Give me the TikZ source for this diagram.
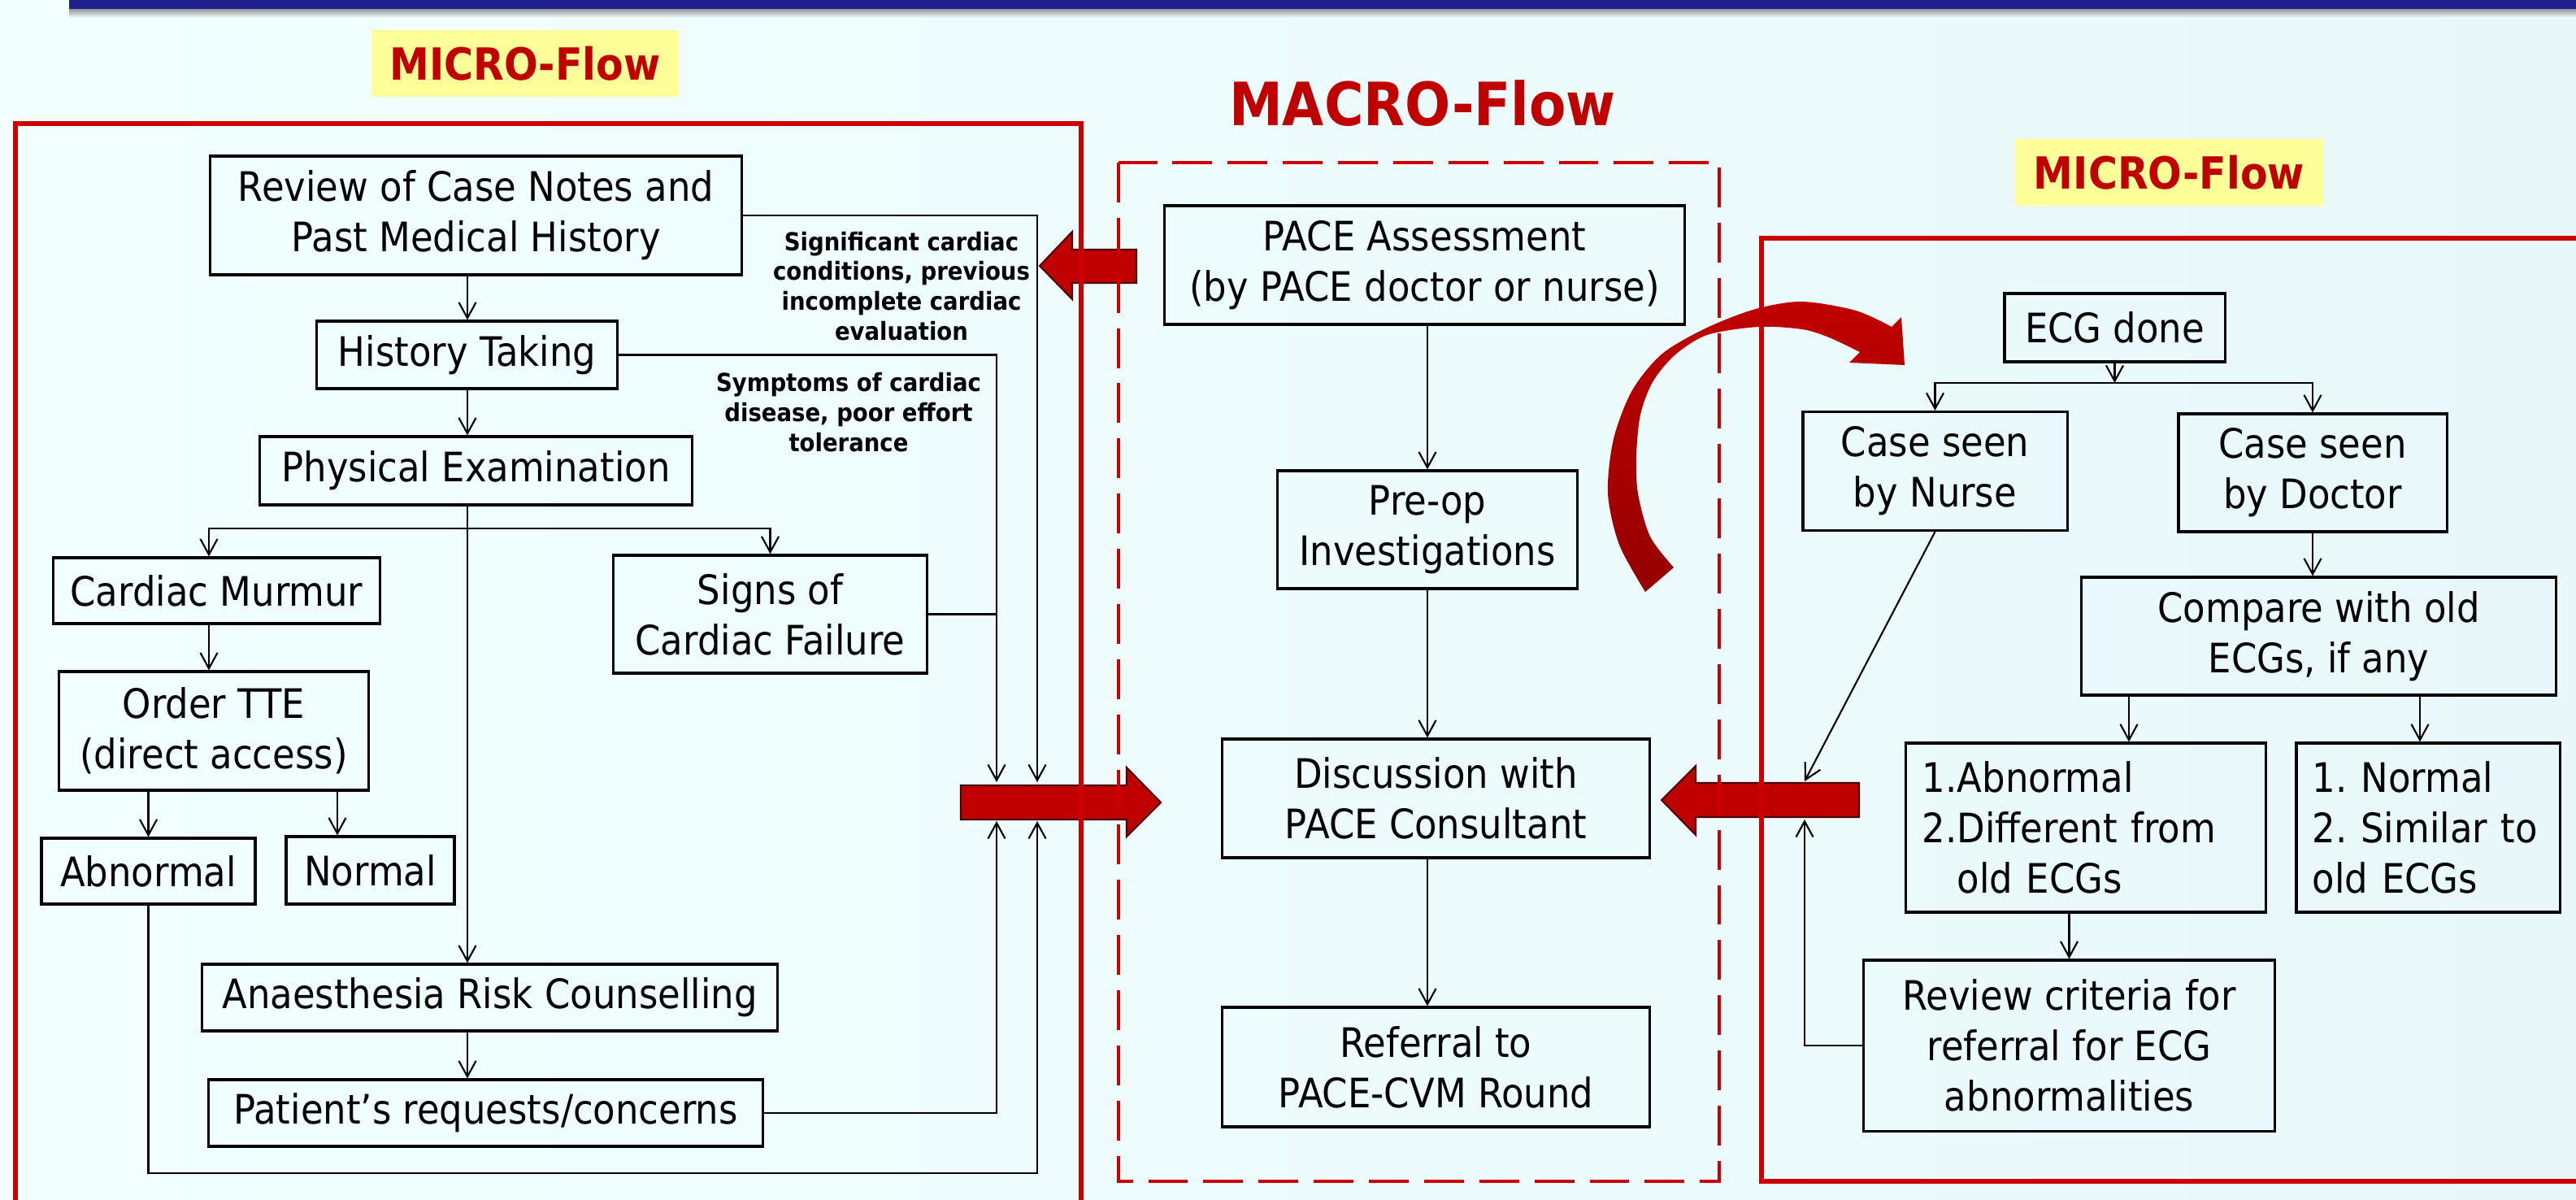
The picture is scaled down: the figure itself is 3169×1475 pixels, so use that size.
\documentclass[tikz,border=0pt]{standalone}
\usepackage{fontspec}
\setmainfont{DejaVu Sans}[FakeStretch=0.9]
\usetikzlibrary{arrows.meta}
\definecolor{bgc}{RGB}{242,255,255}
\definecolor{bgr}{RGB}{232,248,250}
\definecolor{navy}{RGB}{32,32,140}
\definecolor{rd}{RGB}{204,0,0}
\definecolor{ard}{RGB}{192,0,0}
\definecolor{dkr}{RGB}{150,0,0}
\definecolor{ylw}{RGB}{255,255,153}
\newcommand{\nsz}{\fontsize{14.2}{17.6}\selectfont\frenchspacing}
\newcommand{\lsz}{\bfseries\fontsize{8.7}{10.5}\selectfont}
\begin{document}
\begin{tikzpicture}[x=0.01cm,y=-0.01cm,
  box/.style={draw=black,line width=0.9pt,inner sep=0pt,align=center,font=\nsz},
  conn/.style={line width=0.6pt},
  arr/.style={conn,-{Straight Barb[length=5.5pt,width=6pt]}},
  redbox/.style={draw=rd,line width=1.7pt},
  blockarr/.style={fill=ard,draw=black!70!red,line width=0.6pt,line join=miter},
  lbl/.style={font=\lsz,align=center,inner sep=0pt},
  ttl/.style={fill=ylw,text=ard,font=\bfseries\fontsize{15.5}{18}\selectfont,minimum width=3.78cm,minimum height=0.82cm,inner sep=0pt}]
\useasboundingbox (0,0) rectangle (3169,1475);
% background
\shade[left color=bgc,right color=bgr] (0,0) rectangle (3169,1475);
\shade[top color=black!45,bottom color=bgc] (85,10) rectangle (3169,22);
\fill[navy] (85,0) rectangle (3169,11);
% block arrows
\path[blockarr] (1279,327) -- (1319,285) -- (1319,307) -- (1398,307) -- (1398,348) -- (1319,348) -- (1319,368) -- cycle;
\path[blockarr] (1428,987) -- (1386,944) -- (1386,966) -- (1182,966) -- (1182,1008) -- (1386,1008) -- (1386,1029) -- cycle;
\path[blockarr] (2044,984) -- (2086,942) -- (2086,963) -- (2287,963) -- (2287,1005) -- (2086,1005) -- (2086,1027) -- cycle;
% frames
\draw[redbox] (19,1490) -- (19,152) -- (1330,152) -- (1330,1490);
\draw[redbox,line width=1.4pt,dash pattern=on 13.9pt off 5.4pt] (1376,200) rectangle (2115,1453);
\draw[redbox] (3185,293) -- (2167,293) -- (2167,1453) -- (3185,1453);
% curved arrow
\shade[top color=ard,bottom color=dkr] plot[smooth] coordinates {(2024,728) (1992,670) (1978,607) (1985,540) (2008,480) (2045,435) (2100,403) (2160,380) (2217,371) (2283,382) (2327,402)} -- (2339,390) -- (2343,449) -- (2275,446) -- plot[smooth] coordinates {(2288,433) (2250,415) (2217,405) (2163,402) (2100,412) (2060,437) (2033,470) (2018,510) (2013,560) (2015,607) (2030,660) (2059,698)} -- cycle;
% titles
\node[ttl] (t1) at (646,78) {MICRO-Flow};
\node[ttl] (t2) at (2668.5,212) {MICRO-Flow};
\node[text=ard,font=\bfseries\fontsize{20.9}{24}\selectfont,inner sep=0pt] (t0) at (1750,127) {MACRO-Flow};
% left nodes
\node[box,minimum width=6.53cm,minimum height=1.46cm] (rev) at (585.5,265) {Review of Case Notes and\\Past Medical History};
\node[box,minimum width=3.69cm,minimum height=0.83cm] (hist) at (574.5,436.5) {History Taking};
\node[box,minimum width=5.31cm,minimum height=0.84cm] (phys) at (585.5,579) {Physical Examination};
\node[box,minimum width=4.01cm,minimum height=0.81cm] (mur) at (266.5,726.5) {Cardiac Murmur};
\node[box,minimum width=3.85cm,minimum height=1.45cm] (sig) at (947.5,755.5) {Signs of\\Cardiac Failure};
\node[box,minimum width=3.80cm,minimum height=1.46cm] (tte) at (263,899) {Order TTE\\(direct access)};
\node[box,minimum width=2.63cm,minimum height=0.81cm] (abn) at (182.5,1071.5) {Abnormal};
\node[box,minimum width=2.07cm,minimum height=0.83cm] (nrm) at (455.5,1070.5) {Normal};
\node[box,minimum width=7.07cm,minimum height=0.82cm] (ana) at (602.5,1227) {Anaesthesia Risk Counselling};
\node[box,minimum width=6.81cm,minimum height=0.82cm] (pat) at (597.5,1369) {Patient’s requests/concerns};
\node[lbl] (l1) at (1109,352) {Significant cardiac\\conditions, previous\\incomplete cardiac\\evaluation};
\node[lbl] (l2) at (1044,507) {Symptoms of cardiac\\disease, poor effort\\tolerance};
% centre nodes
\node[box,minimum width=6.39cm,minimum height=1.46cm] (pace) at (1752.5,326) {PACE Assessment\\(by PACE doctor or nurse)};
\node[box,minimum width=3.68cm,minimum height=1.45cm] (pre) at (1756,651.5) {Pre-op\\Investigations};
\node[box,minimum width=5.25cm,minimum height=1.46cm] (disc) at (1766.5,982) {Discussion with\\PACE Consultant};
\node[box,minimum width=5.25cm,minimum height=1.47cm] (ref) at (1766.5,1312.5) {Referral to\\PACE-CVM Round};
% right nodes
\node[box,minimum width=2.71cm,minimum height=0.84cm] (ecg) at (2601.5,403) {ECG done};
\node[box,minimum width=3.25cm,minimum height=1.46cm] (nur) at (2380.5,579.5) {Case seen\\by Nurse};
\node[box,minimum width=3.30cm,minimum height=1.45cm] (doc) at (2845,581.5) {Case seen\\by Doctor};
\node[box,minimum width=5.83cm,minimum height=1.45cm] (cmp) at (2852.5,782.5) {Compare with old\\ECGs, if any};
\node[box,align=left,text width=4.12cm,inner xsep=0.15cm,minimum height=2.08cm] (ab2) at (2566,1018) {\hspace{0.05cm}1.Abnormal\\\hspace{0.05cm}2.Different from\\\hspace{0.05cm}\phantom{2.}old ECGs};
\node[box,align=left,text width=3.00cm,inner xsep=0.12cm,minimum height=2.08cm] (no2) at (2987,1018) {\hspace{0.08cm}1. Normal\\\hspace{0.08cm}2. Similar to\\\hspace{0.08cm}old ECGs};
\node[box,minimum width=5.05cm,minimum height=2.10cm] (crit) at (2545.5,1286) {Review criteria for\\referral for ECG\\abnormalities};
% coordinates
\coordinate (tx) at (575,0);
\coordinate (br) at (575,650);
\coordinate (cmx) at (257,0);
\coordinate (nx) at (415,0);
\coordinate (in2a) at (1226,962);
\coordinate (in2b) at (1276,962);
\coordinate (up2a) at (1226,1010);
\coordinate (up2b) at (1276,1010);
\coordinate (lowc) at (1276,1443);
\coordinate (ebr) at (2601.5,471);
\coordinate (c1) at (2619,0);
\coordinate (c2) at (2977,0);
\coordinate (in3) at (2220,961);
\coordinate (up3) at (2220,1008);
% left connectors
\draw[arr] (rev.south -| tx) -- (hist.north -| tx);
\draw[arr] (hist.south -| tx) -- (phys.north -| tx);
\draw[conn] (phys.south -| tx) -- (br);
\draw[arr] (br) -| (mur.north -| cmx);
\draw[arr] (br) -| (sig.north);
\draw[arr] (br) -- (ana.north -| tx);
\draw[arr] (mur.south -| cmx) -- (tte.north -| cmx);
\draw[arr] (tte.south -| abn.north) -- (abn.north);
\draw[arr] (tte.south -| nx) -- (nrm.north -| nx);
\draw[arr] (ana.south -| tx) -- (pat.north -| tx);
\draw[arr] (rev.east) -| (in2b);
\draw[arr] (hist.east) -| (in2a);
\draw[conn] (sig.east) -- (sig.east -| in2a);
\draw[arr] (pat.east) -| (up2a);
\draw[arr] (abn.south) |- (lowc) -- (up2b);
% centre connectors
\draw[arr] (pace.south -| pre.north) -- (pre.north);
\draw[arr] (pre.south) -- (pre.south |- disc.north);
\draw[arr] (disc.south -| pre.south) -- (ref.north -| pre.south);
% right connectors
\draw[arr] (ecg.south) -- (ebr);
\draw[arr] (ebr) -| (nur.north);
\draw[arr] (ebr) -| (doc.north);
\draw[arr] (doc.south) -- (doc.south |- cmp.north);
\draw[arr] (cmp.south -| c1) -- (ab2.north -| c1);
\draw[arr] (cmp.south -| c2) -- (no2.north -| c2);
\draw[arr] (ab2.south -| crit.north) -- (crit.north);
\draw[arr] (nur.south) -- (in3);
\draw[arr] (crit.west) -| (up3);
\end{tikzpicture}
\end{document}
